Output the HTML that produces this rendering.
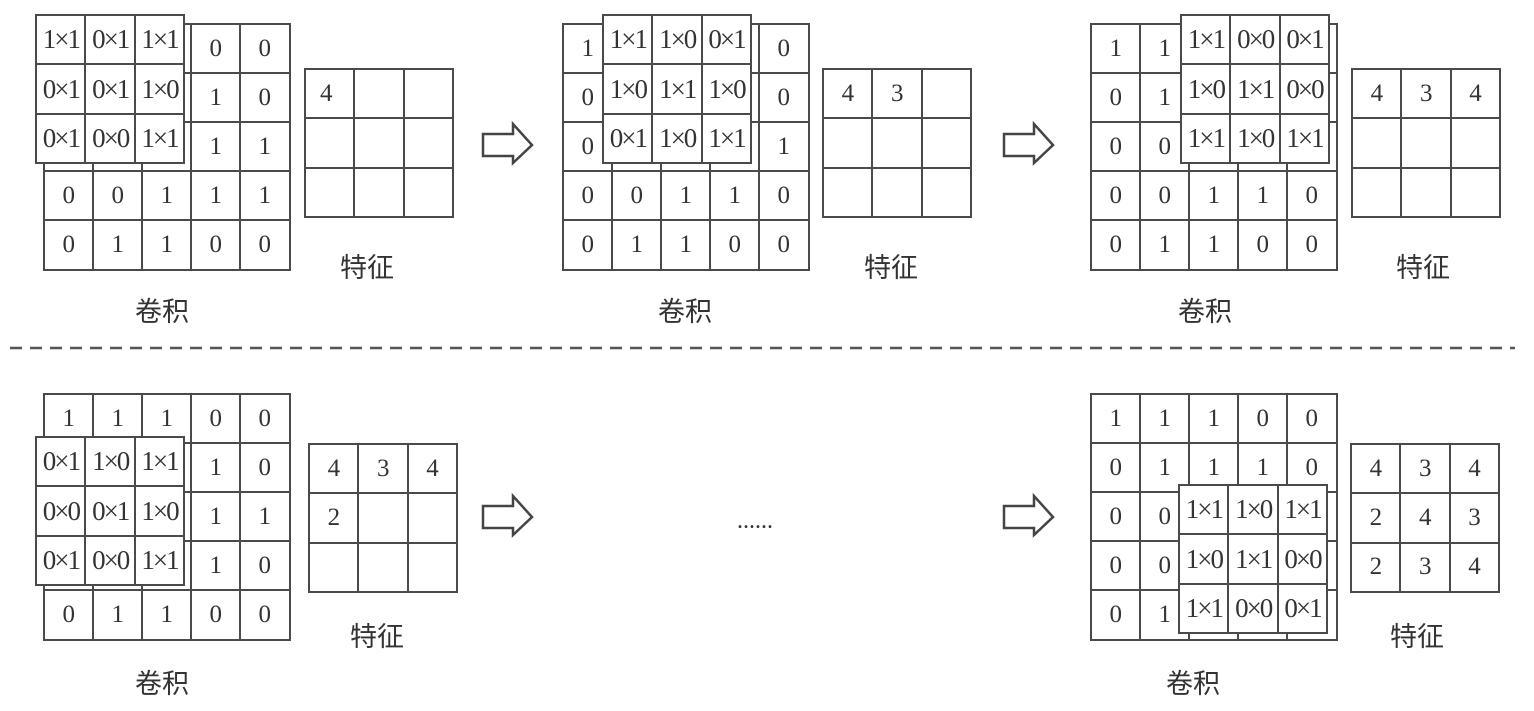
<!DOCTYPE html>
<html><head><meta charset="utf-8"><style>
body{margin:0;width:1534px;height:711px;background:#fff;position:relative;overflow:hidden;font-family:"Liberation Serif","Noto Serif CJK SC",serif;color:#333}
.c{position:absolute;box-sizing:border-box;border:2.5px solid #4a4a4a;background:#fff;display:flex;align-items:center;justify-content:center;font-size:25px}
.k{font-size:27px;letter-spacing:-2px;white-space:nowrap;overflow:visible}
.f{justify-content:flex-start;padding-left:14px}
.l{position:absolute;font-family:"Liberation Sans","Noto Sans CJK SC",sans-serif;font-size:27px;color:#333}
</style></head><body>
<svg width="1534" height="711" style="position:absolute;left:0;top:0">
<line x1="10" y1="348" x2="1515" y2="348" stroke="#555" stroke-width="2.5" stroke-dasharray="12,8"/>
<g fill="none" stroke="#444" stroke-width="2.5">
<polygon points="483,134 513,134 513,124 532,145 513,163 513,156 483,156"/>
<polygon points="483,506 513,506 513,496 532,517 513,535 513,528 483,528"/>
<polygon points="1004,134 1034,134 1034,124 1053,145 1034,163 1034,156 1004,156"/>
<polygon points="1004,506 1034,506 1034,496 1053,517 1034,535 1034,528 1004,528"/>
</g>
<text x="737" y="528" font-size="24" fill="#333" font-family="Liberation Serif">......</text>
</svg>
<div id="r"></div>
<script>
var H='';
function grid(x,y,n,cs,data,cls){for(var r=0;r<n;r++)for(var c=0;c<n;c++){var v=data[r][c];H+='<div class="c '+(cls||'')+'" style="left:'+(x+c*cs)+'px;top:'+(y+r*cs)+'px;width:'+(cs+2.5)+'px;height:'+(cs+2.5)+'px">'+v+'</div>';}}
function lab(t,x,y){H+='<div class="l" style="left:'+x+'px;top:'+y+'px">'+t+'</div>';}
grid(43,23,5,49,[[1,0,1,0,0],[0,0,1,1,0],[0,0,1,1,1],[0,0,1,1,1],[0,1,1,0,0]]);
grid(35,14,3,49.3,[["1×1","0×1","1×1"],["0×1","0×1","1×0"],["0×1","0×0","1×1"]],'k');
grid(304,68,3,49.3,[["4","",""],["","",""],["","",""]],'f');
lab("特征",340,246);lab("卷积",135,290);
grid(562,23,5,49,[[1,1,1,0,0],[0,1,1,1,0],[0,0,1,1,1],[0,0,1,1,0],[0,1,1,0,0]]);
grid(602,14,3,49.3,[["1×1","1×0","0×1"],["1×0","1×1","1×0"],["0×1","1×0","1×1"]],'k');
grid(822,68,3,49.3,[["4","3",""],["","",""],["","",""]]);
lab("特征",864,246);lab("卷积",658,290);
grid(1090,23,5,49,[[1,1,1,0,0],[0,1,1,1,0],[0,0,1,1,1],[0,0,1,1,0],[0,1,1,0,0]]);
grid(1180,14,3,49.3,[["1×1","0×0","0×1"],["1×0","1×1","0×0"],["1×1","1×0","1×1"]],'k');
grid(1351,68,3,49.3,[["4","3","4"],["","",""],["","",""]]);
lab("特征",1396,246);lab("卷积",1178,290);
grid(43,393,5,49,[[1,1,1,0,0],[0,1,1,1,0],[0,0,1,1,1],[0,0,1,1,0],[0,1,1,0,0]]);
grid(35,436,3,49.3,[["0×1","1×0","1×1"],["0×0","0×1","1×0"],["0×1","0×0","1×1"]],'k');
grid(308,443,3,49.3,[["4","3","4"],["2","",""],["","",""]]);
lab("特征",350,615);lab("卷积",135,662);
grid(1090,393,5,49,[[1,1,1,0,0],[0,1,1,1,0],[0,0,1,1,1],[0,0,1,1,0],[0,1,1,0,0]]);
grid(1178,484,3,49.3,[["1×1","1×0","1×1"],["1×0","1×1","0×0"],["1×1","0×0","0×1"]],'k');
grid(1350,443,3,49.3,[["4","3","4"],["2","4","3"],["2","3","4"]]);
lab("特征",1390,615);lab("卷积",1166,662);
document.getElementById('r').innerHTML=H;
</script>
</body></html>
